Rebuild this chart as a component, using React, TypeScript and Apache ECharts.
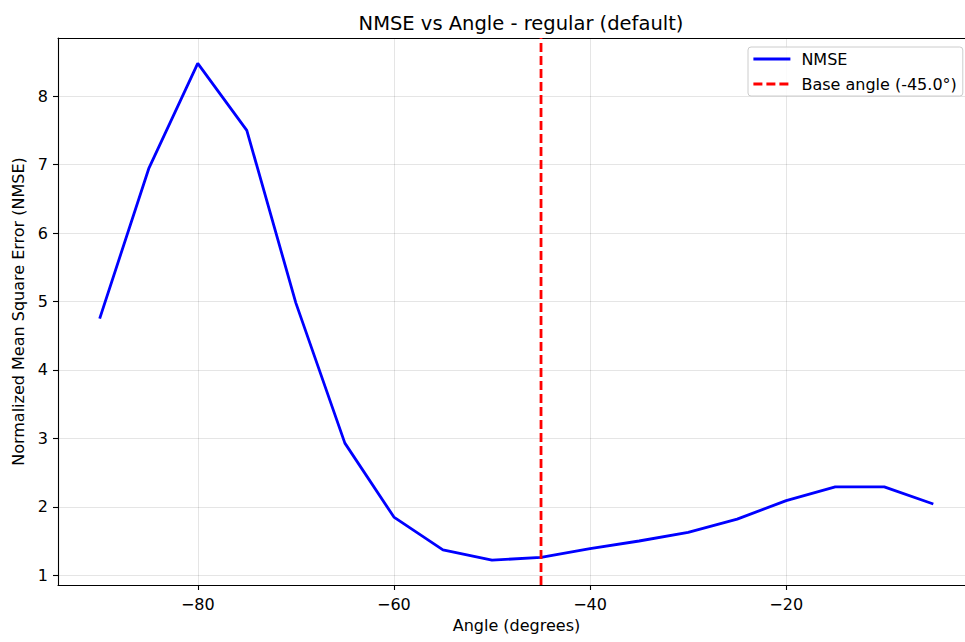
import React, { useEffect, useRef } from "react";
import * as echarts from "echarts";

// Sampled angles (degrees) and the normalized mean square error at each one
const angles: number[] = [-90, -85, -80, -75, -70, -65, -60, -55, -50, -45, -40, -35, -30, -25, -20, -15, -10, -5];
const nmse: number[] = [4.75, 6.94, 8.48, 7.5, 4.98, 2.93, 1.85, 1.37, 1.22, 1.26, 1.39, 1.5, 1.625, 1.82, 2.09, 2.29, 2.29, 2.04];

const baseAngle = -45.0;
const xTicks: number[] = [-80, -60, -40, -20];
const yTicks: number[] = [1, 2, 3, 4, 5, 6, 7, 8];

const X_MIN = -94.25;
const X_MAX = -0.75;
const Y_MIN = 0.857;
const Y_MAX = 8.85;

const FONT = "DejaVu Sans";
const FS = 16;

export default function App() {
  const ref = useRef<HTMLDivElement>(null);

  useEffect(() => {
    if (!ref.current) return;
    const chart = echarts.init(ref.current, null, { renderer: "svg" });
    const minus = (v: number) => String(v).replace("-", "\u2212");

    chart.setOption({
      animation: false,
      backgroundColor: "#ffffff",
      title: {
        text: "NMSE vs Angle - regular (default)",
        left: 516,
        top: 8,
        textAlign: "center",
        textStyle: { fontFamily: FONT, fontSize: 19.5, fontWeight: "normal", color: "#000" },
      },
      // the plot area runs a little past the visible right edge
      grid: {
        left: 58,
        top: 38,
        right: 25,
        bottom: 57,
        show: false,
      },
      legend: {
        orient: "vertical",
        left: 748,
        top: 47,
        padding: [4, 6, 4, 4],
        itemGap: 9,
        itemWidth: 37,
        itemHeight: 16,
        backgroundColor: "rgba(255,255,255,0.85)",
        borderColor: "#cccccc",
        borderWidth: 1,
        borderRadius: 3,
        itemStyle: { opacity: 0 },
        lineStyle: { width: 2.8 },
        textStyle: { fontFamily: FONT, fontSize: FS, color: "#000", padding: [0, 0, 0, 6] },
        data: [{ name: "NMSE" }, { name: "Base angle (-45.0°)" }],
      },
      xAxis: [
        {
          type: "value",
          min: X_MIN,
          max: X_MAX,
          name: "Angle (degrees)",
          nameLocation: "middle",
          nameGap: 32,
          nameTextStyle: { fontFamily: FONT, fontSize: FS, color: "#000" },
          axisLine: { show: true, onZero: false, lineStyle: { color: "#000", width: 1.1 } },
          axisTick: { show: true, length: 5, customValues: xTicks, lineStyle: { color: "#000", width: 1.1 } },
          axisLabel: {
            customValues: xTicks,
            formatter: (v: number) => minus(v),
            margin: 11,
            fontFamily: FONT,
            fontSize: FS,
            color: "#000",
          },
          splitLine: { show: true, lineStyle: { color: "rgba(0,0,0,0.1)", width: 1 } },
        },
        {
          // top spine only
          type: "value",
          position: "top",
          min: X_MIN,
          max: X_MAX,
          axisLine: { show: true, onZero: false, lineStyle: { color: "#000", width: 1.1 } },
          axisTick: { show: false },
          axisLabel: { show: false },
          splitLine: { show: false },
        },
      ],
      yAxis: {
        type: "value",
        min: Y_MIN,
        max: Y_MAX,
        name: "Normalized Mean Square Error (NMSE)",
        nameLocation: "middle",
        nameGap: 31,
        nameTextStyle: { fontFamily: FONT, fontSize: FS, color: "#000" },
        axisLine: { show: true, onZero: false, lineStyle: { color: "#000", width: 1.1 } },
        axisTick: { show: true, length: 5, customValues: yTicks, lineStyle: { color: "#000", width: 1.1 } },
        axisLabel: {
          customValues: yTicks,
          formatter: (v: number) => minus(v),
          margin: 10,
          fontFamily: FONT,
          fontSize: FS,
          color: "#000",
        },
        splitLine: { show: true, lineStyle: { color: "rgba(0,0,0,0.1)", width: 1 } },
      },
      series: [
        {
          name: "NMSE",
          type: "line",
          data: angles.map((a, i) => [a, nmse[i]]),
          showSymbol: false,
          symbol: "none",
          lineStyle: { color: "#0000ff", width: 2.8 },
          itemStyle: { color: "#0000ff" },
          z: 3,
        },
        {
          name: "Base angle (-45.0°)",
          type: "line",
          data: [
            [baseAngle, Y_MIN],
            [baseAngle, Y_MAX],
          ],
          showSymbol: false,
          symbol: "none",
          lineStyle: { color: "#ff0000", width: 2.8, type: [9, 4] },
          itemStyle: { color: "#ff0000" },
          z: 4,
        },
      ],
    });

    return () => chart.dispose();
  }, []);

  return (
    <div style={{ position: "fixed", left: 0, top: 0, width: 965, height: 642, overflow: "hidden", background: "#fff" }}>
      <div ref={ref} style={{ width: 1000, height: 642 }} />
    </div>
  );
}
